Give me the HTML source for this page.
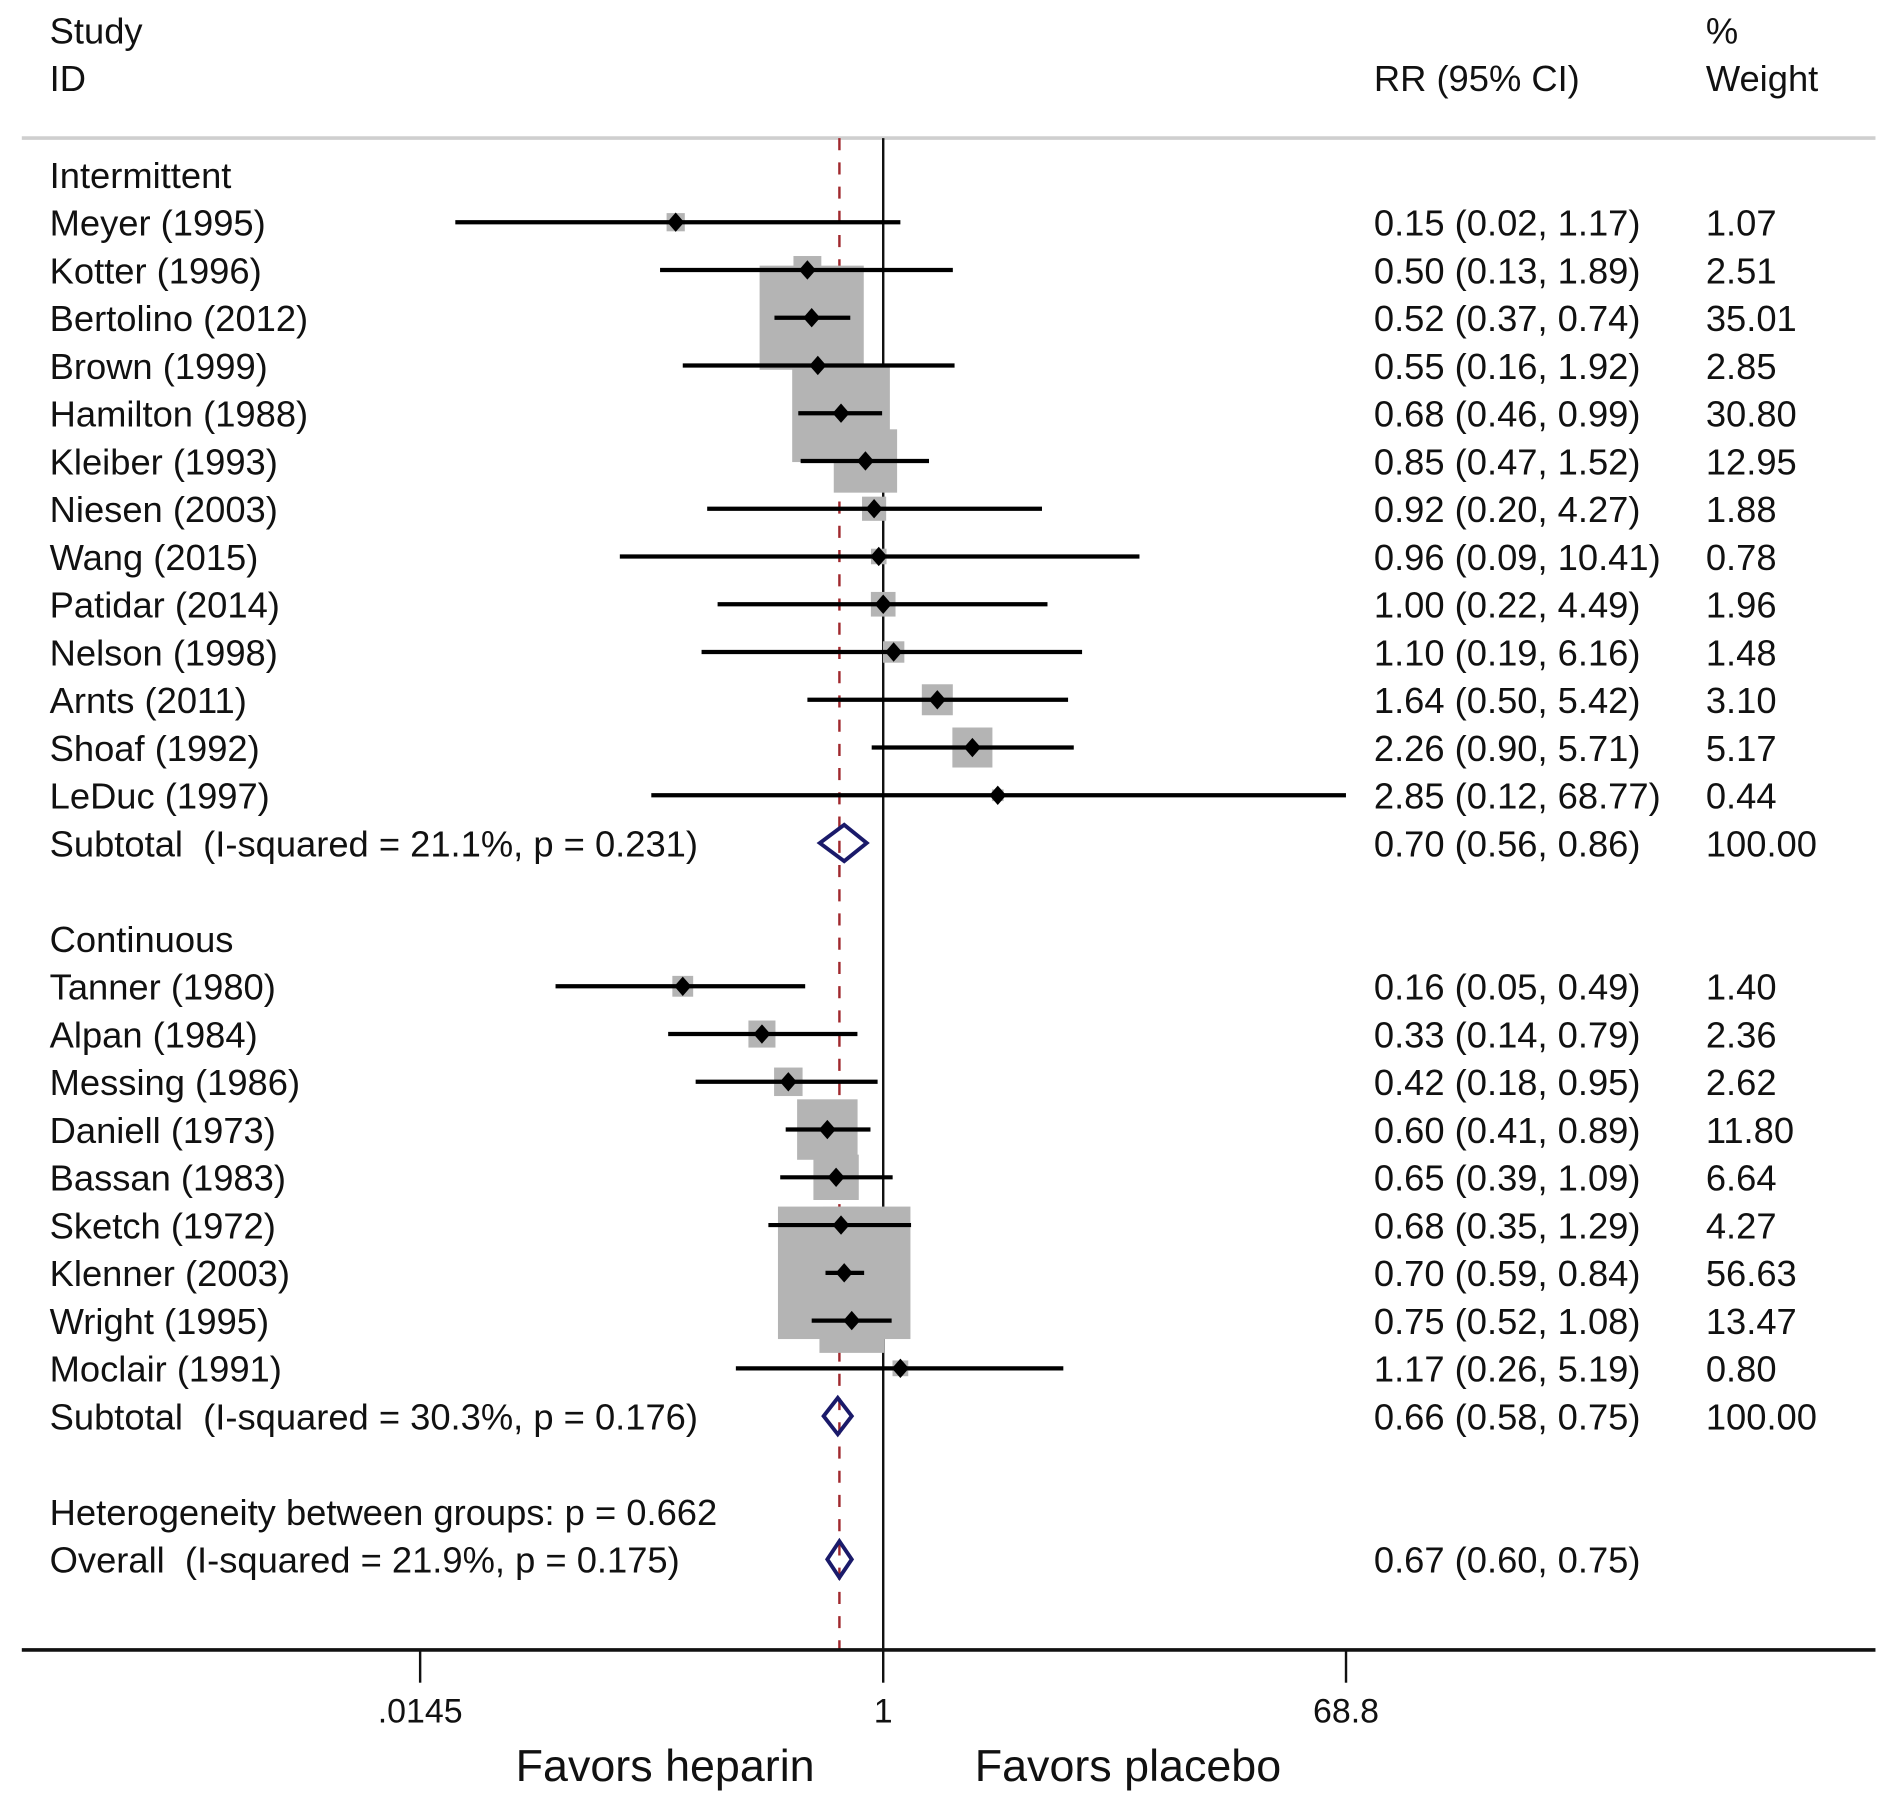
<!DOCTYPE html>
<html><head><meta charset="utf-8"><style>
html,body{margin:0;padding:0;background:#fff;}
svg{display:block;}
text{font-family:"Liberation Sans",Arial,sans-serif;fill:#111;white-space:pre;}
</style></head><body>
<svg id="chart" width="1890" height="1799" viewBox="0 0 1560 1485" preserveAspectRatio="none" xmlns="http://www.w3.org/2000/svg">
<g id="g"></g>
</svg>
<script>
// Data
const studyLabels = ["Meyer (1995)","Kotter (1996)","Bertolino (2012)","Brown (1999)","Hamilton (1988)","Kleiber (1993)","Niesen (2003)","Wang (2015)","Patidar (2014)","Nelson (1998)","Arnts (2011)","Shoaf (1992)","LeDuc (1997)",
"Tanner (1980)","Alpan (1984)","Messing (1986)","Daniell (1973)","Bassan (1983)","Sketch (1972)","Klenner (2003)","Wright (1995)","Moclair (1991)"];
const studyGroup = [0,0,0,0,0,0,0,0,0,0,0,0,0,1,1,1,1,1,1,1,1,1];
const rr =    [0.15,0.50,0.52,0.55,0.68,0.85,0.92,0.96,1.00,1.10,1.64,2.26,2.85, 0.16,0.33,0.42,0.60,0.65,0.68,0.70,0.75,1.17];
const lower = [0.02,0.13,0.37,0.16,0.46,0.47,0.20,0.09,0.22,0.19,0.50,0.90,0.12, 0.05,0.14,0.18,0.41,0.39,0.35,0.59,0.52,0.26];
const upper = [1.17,1.89,0.74,1.92,0.99,1.52,4.27,10.41,4.49,6.16,5.42,5.71,68.77, 0.49,0.79,0.95,0.89,1.09,1.29,0.84,1.08,5.19];
const weights = ["1.07","2.51","35.01","2.85","30.80","12.95","1.88","0.78","1.96","1.48","3.10","5.17","0.44",
"1.40","2.36","2.62","11.80","6.64","4.27","56.63","13.47","0.80"];
const pooledLabels = ["Subtotal  (I-squared = 21.1%, p = 0.231)","Subtotal  (I-squared = 30.3%, p = 0.176)","Overall  (I-squared = 21.9%, p = 0.175)"];
const pooledRR = [0.70,0.66,0.67];
const pooledLo = [0.56,0.58,0.60];
const pooledHi = [0.86,0.75,0.75];
const pooledW = ["100.00","100.00",""];
const tickValues = [0.0145,1,68.8];
const tickLabels = [".0145","1","68.8"];

const NS="http://www.w3.org/2000/svg";
const g=document.getElementById('g');
const X0=729, K=382/Math.log(68.8);
function xs(v){return Math.min(1111, Math.max(18, X0+Math.log(v)*K));}
const ROW0=144, STEP=39.42;
function ys(r){return ROW0+r*STEP;}
function mk(tag,attrs,parent){const e=document.createElementNS(NS,tag);for(const k in attrs)e.setAttribute(k,attrs[k]);(parent||g).appendChild(e);return e;}
function txt(s,x,y,size,anchor){const t=mk('text',{x:x,y:y,'font-size':size||30,'text-anchor':anchor||'start'});t.textContent=s;return t;}
function fmt(v){return v.toFixed(2);}
function ci(r,l,u){return fmt(r)+" ("+fmt(l)+", "+fmt(u)+")";}

let t;
t=txt("Study",41,36);
t=txt("ID",41,75);
t=txt("RR (95% CI)",1134,75);
t=txt("%",1408,36);
t=txt("Weight",1408,75);
let e=mk('line',{x1:18,x2:1548,y1:114,y2:114,stroke:'#cfcfcf','stroke-width':3});


const rowIdx=[];let r=1;
for(let i=0;i<studyLabels.length;i++){ if(i===13) r+=3; rowIdx.push(r); r++; }
const pooledRows=[14,26,29];

e=mk('line',{x1:X0,x2:X0,y1:114,y2:1362,stroke:'#111','stroke-width':2});

const ox=xs(pooledRR[2]);
e=mk('line',{x1:ox,x2:ox,y1:114,y2:1362,stroke:'#a0282d','stroke-width':2,'stroke-dasharray':'10 10'});


t=txt("Intermittent",41,ys(0)+11);
t=txt("Continuous",41,ys(16)+11);
t=txt("Heterogeneity between groups: p = 0.662",41,ys(28)+11);

for(let i=0;i<rr.length;i++){
  const s=14.53*Math.sqrt(parseFloat(weights[i]));
  const cx=xs(rr[i]), cy=ys(rowIdx[i]);
  e=mk('rect',{x:cx-s/2,y:cy-s/2,width:s,height:s,fill:'#b4b4b4'});
  
  
}
for(let i=0;i<rr.length;i++){
  const cy=ys(rowIdx[i]), cx=xs(rr[i]);
  e=mk('line',{x1:xs(lower[i]),x2:xs(upper[i]),y1:cy,y2:cy,stroke:'#000','stroke-width':3.5});
  
  
  e=mk('polygon',{points:`${cx-7},${cy} ${cx},${cy-8} ${cx+7},${cy} ${cx},${cy+8}`,fill:'#000'});
  
  
  t=txt(studyLabels[i],41,cy+11);
  
  
  t=txt(ci(rr[i],lower[i],upper[i]),1134,cy+11);
  
  
  t=txt(weights[i],1408,cy+11);
  
  
}
for(let j=0;j<3;j++){
  const cy=ys(pooledRows[j]);
  const a=xs(pooledLo[j]), b=xs(pooledRR[j]), c=xs(pooledHi[j]);
  e=mk('polygon',{points:`${a},${cy} ${b},${cy-15} ${c},${cy} ${b},${cy+15}`,fill:'none',stroke:'#1a1a6a','stroke-width':3.2});
  
  
  t=txt(pooledLabels[j],41,cy+11);
  
  
  t=txt(ci(pooledRR[j],pooledLo[j],pooledHi[j]),1134,cy+11);
  
  
  if(pooledW[j]){t=txt(pooledW[j],1408,cy+11);
  
  }
}
e=mk('line',{x1:18,x2:1548,y1:1362,y2:1362,stroke:'#111','stroke-width':3});

for(let k=0;k<tickValues.length;k++){
  const x=X0+Math.log(tickValues[k])*K;
  e=mk('line',{x1:x,x2:x,y1:1362,y2:1389,stroke:'#111','stroke-width':2});
  
  
  t=txt(tickLabels[k],x,1422,28,'middle');
  
  
}
t=txt("Favors heparin",549,1470,37,'middle');
t=txt("Favors placebo",931,1470,37,'middle');
</script>
</body></html>
